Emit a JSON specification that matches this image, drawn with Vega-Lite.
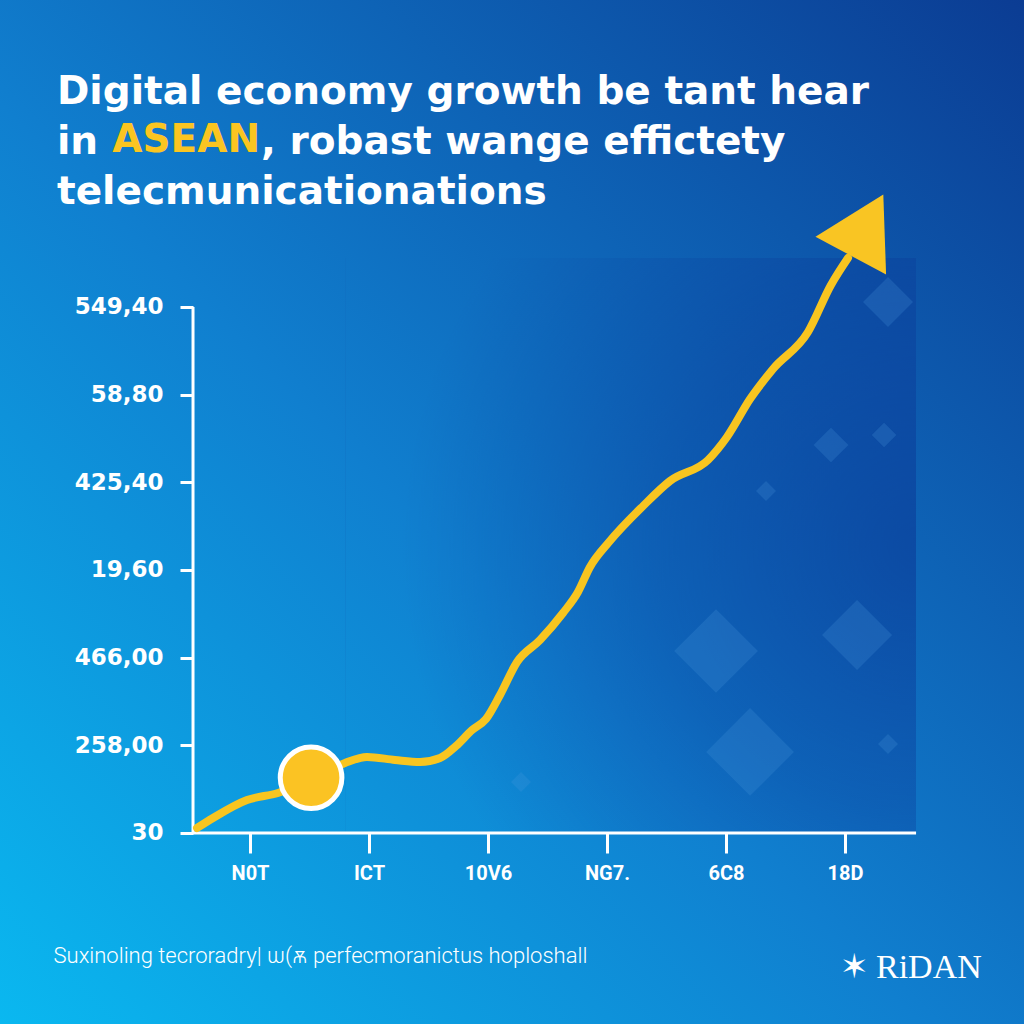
{
  "$schema": "https://vega.github.io/schema/vega-lite/v6.json",
  "width": 1024,
  "height": 1024,
  "autosize": {"type": "none"},
  "padding": 0,
  "background": "#1074c6",
  "config": {
    "view": {
      "stroke": null,
      "fill": {"gradient": "linear", "x1": 0, "y1": 1, "x2": 1, "y2": 0,
        "stops": [
          {"offset": 0, "color": "#0ab8f0"},
          {"offset": 0.45, "color": "#107fcf"},
          {"offset": 1, "color": "#0b3c93"}
        ]}
    }
  },
  "title": {
    "text": ["Digital economy growth be tant hear", "in\u00a0\u00a0\u00a0\u00a0\u00a0\u00a0\u00a0\u00a0\u00a0\u00a0\u00a0\u00a0, robast wange effictety", "telecmunicationations"],
    "anchor": "start",
    "frame": "group",
    "orient": "top",
    "dx": 57,
    "dy": 243,
    "offset": 0,
    "font": "DejaVu Sans",
    "fontWeight": "bold",
    "fontSize": 39,
    "lineHeight": 50,
    "color": "white",
    "baseline": "alphabetic"
  },
  "datasets": {
    "pattern": [{"x": 0.8, "x2": 5.597, "y": 0, "y2": 6.56}],
    "diamonds": [
      {"x": 3.916, "y": 2.076, "s": 7000},
      {"x": 4.202, "y": 0.924, "s": 7700},
      {"x": 5.101, "y": 2.258, "s": 4900},
      {"x": 5.361, "y": 6.057, "s": 2500},
      {"x": 4.882, "y": 4.426, "s": 1200},
      {"x": 5.328, "y": 4.54, "s": 600},
      {"x": 5.361, "y": 1.015, "s": 400},
      {"x": 2.277, "y": 0.582, "s": 400},
      {"x": 4.336, "y": 3.901, "s": 400}
    ],
    "axislines": [
      {"x": -0.479, "x2": -0.479, "y": 0, "y2": 6},
      {"x": -0.479, "x2": 5.597, "y": 0, "y2": 0}
    ],
    "series": [
      {"x": -0.445, "y": 0.057},
      {"x": -0.311, "y": 0.171},
      {"x": -0.025, "y": 0.376},
      {"x": 0.235, "y": 0.456},
      {"x": 0.513, "y": 0.605},
      {"x": 0.798, "y": 0.798},
      {"x": 0.983, "y": 0.867},
      {"x": 1.218, "y": 0.833},
      {"x": 1.429, "y": 0.81},
      {"x": 1.597, "y": 0.855},
      {"x": 1.731, "y": 0.992},
      {"x": 1.866, "y": 1.175},
      {"x": 1.983, "y": 1.3},
      {"x": 2.101, "y": 1.574},
      {"x": 2.244, "y": 1.951},
      {"x": 2.437, "y": 2.201},
      {"x": 2.63, "y": 2.509},
      {"x": 2.756, "y": 2.749},
      {"x": 2.857, "y": 3.034},
      {"x": 3.017, "y": 3.319},
      {"x": 3.303, "y": 3.73},
      {"x": 3.529, "y": 4.015},
      {"x": 3.849, "y": 4.255},
      {"x": 4.008, "y": 4.517},
      {"x": 4.202, "y": 4.95},
      {"x": 4.395, "y": 5.293},
      {"x": 4.689, "y": 5.715},
      {"x": 4.882, "y": 6.251},
      {"x": 5.025, "y": 6.559}
    ],
    "arrow": [{"x": 5.185, "y": 6.935}],
    "marker": [{"x": 0.513, "y": 0.63}],
    "highlight": [{"x": -1.157, "y": 7.768, "t": "ASEAN"}]
  },
  "layer": [
    {
      "data": {"name": "pattern"},
      "mark": {"type": "rect",
        "fill": {"gradient": "radial", "x1": 1, "y1": 0.5, "r1": 0, "x2": 1, "y2": 0.5, "r2": 0.9,
          "stops": [
            {"offset": 0, "color": "rgba(10,50,145,0.5)"},
            {"offset": 0.5, "color": "rgba(10,52,148,0.32)"},
            {"offset": 1, "color": "rgba(10,55,150,0)"}
          ]}},
      "encoding": {
        "x": {"field": "x", "type": "quantitative",
          "scale": {"domain": [-2.101, 6.504], "nice": false, "zero": false},
          "axis": {
            "values": [0, 1, 2, 3, 4, 5],
            "labelExpr": "['N0T','ICT','10V6','NG7.','6C8','18D'][datum.value]",
            "offset": -191,
            "domain": false,
            "grid": false,
            "tickColor": "white",
            "tickWidth": 3,
            "tickSize": 20,
            "labelColor": "white",
            "labelFont": "Roboto",
            "labelFontWeight": "bold",
            "labelFontSize": 20,
            "labelPadding": 10,
            "labelBound": false,
            "labelOverlap": false,
            "labelFlush": false,
            "title": "Suxinoling tecroradry| ѡ(ѫ perfecmoranictus hoploshall",
            "titleX": 53,
            "titleY": 129,
            "titleAlign": "left",
            "titleAnchor": "start",
            "titleBaseline": "alphabetic",
            "titleFont": "Roboto",
            "titleFontWeight": 300,
            "titleFontSize": 22,
            "titleColor": "white"
          }},
        "x2": {"field": "x2"},
        "y": {"field": "y", "type": "quantitative",
          "scale": {"domain": [-2.179, 9.502], "nice": false, "zero": false},
          "axis": {
            "values": [0, 1, 2, 3, 4, 5, 6],
            "labelExpr": "['30','258,00','466,00','19,60','425,40','58,80','549,40'][datum.value]",
            "offset": -193,
            "domain": false,
            "grid": false,
            "tickColor": "white",
            "tickWidth": 3,
            "tickSize": 13,
            "labelPadding": 17,
            "labelColor": "white",
            "labelFont": "DejaVu Sans",
            "labelFontWeight": "bold",
            "labelFontSize": 23,
            "labelBound": false,
            "labelOverlap": false,
            "labelFlush": false,
            "title": "✶ RiDAN",
            "titleAngle": 0,
            "titleX": 646,
            "titleY": 977,
            "titleAlign": "left",
            "titleBaseline": "alphabetic",
            "titleFont": "Liberation Serif",
            "titleFontWeight": "normal",
            "titleFontSize": 34,
            "titleColor": "white"
          }},
        "y2": {"field": "y2"}
      }
    },
    {
      "data": {"name": "diamonds"},
      "mark": {"type": "point", "shape": "diamond", "filled": true, "color": "#4d9be0", "opacity": 0.22},
      "encoding": {
        "x": {"field": "x", "type": "quantitative"},
        "y": {"field": "y", "type": "quantitative"},
        "size": {"field": "s", "type": "quantitative", "scale": null}
      }
    },
    {
      "data": {"name": "axislines"},
      "mark": {"type": "rule", "color": "white", "strokeWidth": 3},
      "encoding": {
        "x": {"field": "x", "type": "quantitative"},
        "x2": {"field": "x2"},
        "y": {"field": "y", "type": "quantitative"},
        "y2": {"field": "y2"}
      }
    },
    {
      "data": {"name": "series"},
      "mark": {"type": "line", "color": "#f8c520", "strokeWidth": 8, "interpolate": "monotone", "strokeCap": "round", "strokeJoin": "round"},
      "encoding": {
        "x": {"field": "x", "type": "quantitative"},
        "y": {"field": "y", "type": "quantitative"}
      }
    },
    {
      "data": {"name": "arrow"},
      "mark": {"type": "point", "shape": "triangle-up", "filled": true, "color": "#f9c523", "opacity": 1, "size": 6400, "angle": 28},
      "encoding": {
        "x": {"field": "x", "type": "quantitative"},
        "y": {"field": "y", "type": "quantitative"}
      }
    },
    {
      "data": {"name": "marker"},
      "mark": {"type": "point", "shape": "circle", "filled": true, "fill": "#fbc323", "stroke": "white", "strokeWidth": 5, "opacity": 1, "size": 3800},
      "encoding": {
        "x": {"field": "x", "type": "quantitative"},
        "y": {"field": "y", "type": "quantitative"}
      }
    },
    {
      "data": {"name": "highlight"},
      "mark": {"type": "text", "align": "left", "baseline": "alphabetic", "font": "DejaVu Sans", "fontWeight": "bold", "fontSize": 39, "color": "#fbc521"},
      "encoding": {
        "x": {"field": "x", "type": "quantitative"},
        "y": {"field": "y", "type": "quantitative"},
        "text": {"field": "t"}
      }
    }
  ]
}
